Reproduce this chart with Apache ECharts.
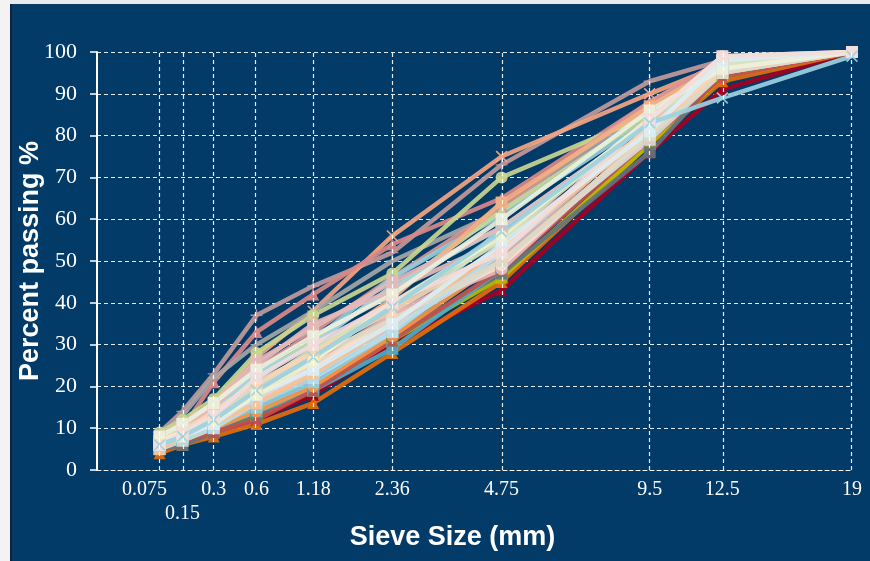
<!DOCTYPE html>
<html>
<head>
<meta charset="utf-8">
<script src="https://cdn.jsdelivr.net/npm/echarts@6/dist/echarts.min.js"></script>
<style>
  html, body { margin: 0; padding: 0; background: #f2f2f2; }
  #chart { width: 870px; height: 561px; }
</style>
</head>
<body>
<div id="chart"></div>
<script>
// Sieve openings (mm) and their tick labels
const sieveSizes = [0.075, 0.15, 0.3, 0.6, 1.18, 2.36, 4.75, 9.5, 12.5, 19];
const sieveLabels = ['0.075', '0.15', '0.3', '0.6', '1.18', '2.36', '4.75', '9.5', '12.5', '19'];
const passingTicks = [0, 10, 20, 30, 40, 50, 60, 70, 80, 90, 100];
// Sieve whose label sits on a second, lower row
const loweredSieve = 0.15;

// Percent passing for each gradation, one value per sieve
const mix01 = [5, 7, 9, 12, 18, 30, 43, 76, 91, 100];
const mix02 = [4, 6, 8, 11, 16, 28, 45, 78, 93, 100];
const mix03 = [5, 7, 9, 13, 19, 31, 46, 78, 94, 100];
const mix04 = [5, 6, 9, 13, 20, 32, 47, 76, 95, 100];
const mix05 = [5, 7, 10, 14, 19, 29, 48, 80, 96, 100];
const mix06 = [5, 7, 9, 12, 19, 31, 48, 79, 94, 100];
const mix07 = [5, 7, 10, 14, 20, 32, 50, 80, 96, 100];
const mix08 = [6, 8, 11, 15, 21, 33, 58, 81, 95, 100];
const mix09 = [6, 8, 12, 16, 24, 37, 48, 81, 97, 100];
const mix10 = [9, 14, 23, 37, 44, 52, 73, 93, 98, 100];
const mix11 = [7, 10, 16, 27, 38, 56, 75, 90, 97, 100];
const mix12 = [6, 10, 21, 33, 42, 54, 65, 88, 98, 100];
const mix13 = [8, 13, 22, 30, 38, 50, 62, 87, 97, 100];
const mix14 = [9, 12, 17, 28, 37, 47, 70, 85, 98, 100];
const mix15 = [7, 10, 15, 24, 33, 46, 63, 88, 98, 100];
const mix16 = [6, 9, 13, 22, 31, 46, 61, 84, 97, 100];
const mix17 = [7, 10, 14, 23, 31, 43, 62, 85, 97, 100];
const mix18 = [7, 9, 13, 19, 28, 41, 64, 87, 97, 100];
const mix19 = [6, 9, 14, 23, 30, 44, 58, 83, 96, 100];
const mix20 = [7, 10, 15, 25, 35, 43, 55, 80, 97, 100];
const mix21 = [8, 11, 16, 26, 34, 45, 58, 83, 98, 100];
const mix22 = [5, 8, 12, 19, 26, 37, 51, 82, 97, 100];
const mix23 = [6, 8, 12, 17, 25, 36, 49, 80, 96, 100];
const mix24 = [6, 8, 11, 17, 23, 34, 50, 79, 95, 100];
const mix25 = [5, 7, 10, 16, 22, 33, 52, 82, 97, 100];
const mix26 = [5, 8, 11, 16, 23, 35, 53, 81, 96, 100];
const mix27 = [6, 9, 12, 20, 29, 39, 55, 84, 97, 100];
const mix28 = [7, 10, 13, 20, 27, 36, 50, 80, 95, 100];
const mix29 = [6, 9, 14, 21, 28, 38, 53, 82, 96, 100];
const mix30 = [8, 11, 16, 24, 32, 42, 60, 86, 96, 100];
const mix31 = [6, 8, 11, 18, 24, 35, 54, 81, 98, 100];
const mix32 = [7, 9, 12, 18, 26, 40, 56, 84, 99, 100];
const mix33 = [6, 9, 13, 22, 30, 40, 52, 84, 99, 100];
const mix34 = [6, 8, 12, 19, 27, 39, 57, 83, 89, 99];

const mixes = [mix01, mix02, mix03, mix04, mix05, mix06, mix07, mix08, mix09, mix10,
  mix11, mix12, mix13, mix14, mix15, mix16, mix17, mix18, mix19, mix20,
  mix21, mix22, mix23, mix24, mix25, mix26, mix27, mix28, mix29, mix30,
  mix31, mix32, mix33, mix34];

// Marker shapes
const crossMark = 'path://M1,0 L5,4 L9,0 L10,1 L6,5 L10,9 L9,10 L5,6 L1,10 L0,9 L4,5 L0,1 Z';
const starMark = 'path://M4.4,0 H5.6 V4.4 H10 V5.6 H5.6 V10 H4.4 V5.6 H0 V4.4 H4.4 Z';

// Line colour and marker for each gradation, drawn in this order
const mixStyles = [
  ['#A50021', 'triangle'], ['#E46C0A', 'triangle'], ['#B9BC00', 'rect'], ['#66737C', 'rect'],
  ['#4BACC6', 'rect'], ['#C0504D', 'triangle'], ['#F79646', 'circle'], ['#93CDDD', 'rect'],
  ['#E6B9B8', 'circle'], ['#C09A9A', starMark], ['#F4A582', crossMark], ['#D98888', 'triangle'],
  ['#A6A6A6', starMark], ['#C9D58F', 'circle'], ['#D99694', 'triangle'], ['#92CDDC', 'triangle'],
  ['#C4D79B', 'triangle'], ['#F4B183', 'rect'], ['#A5D5E2', 'rect'], ['#E6B9B8', 'circle'],
  ['#E5B9B7', 'rect'], ['#E8B4B2', 'triangle'], ['#FDE0CC', 'circle'], ['#D9D9D9', 'rect'],
  ['#B7DEE8', 'rect'], ['#FAC090', 'triangle'], ['#D7E4BD', 'circle'], ['#DDD9C3', 'rect'],
  ['#FCD5B5', 'triangle'], ['#EBF1DE', 'rect'], ['#DBEEF4', 'rect'], ['#F2F2CC', 'circle'],
  ['#F2DCDB', 'rect'], ['#9BD1E0', crossMark]
];

// Gradation charts plot sieve size on a 0.45-power scale
const POWER = 0.45;
const toAxis = s => Math.pow(s, POWER);

function sieveLabelFor(value) {
  let best = 0;
  sieveSizes.forEach((s, k) => {
    if (Math.abs(toAxis(s) - value) < Math.abs(toAxis(sieveSizes[best]) - value)) best = k;
  });
  return sieveLabels[best];
}

const series = mixes.map((vals, i) => ({
  name: 'Mix ' + (i + 1),
  type: 'line',
  z: 3,
  data: vals.map((v, k) => [toAxis(sieveSizes[k]), v]),
  symbol: mixStyles[i][1],
  symbolSize: 12,
  showSymbol: true,
  lineStyle: { width: 4.5, color: mixStyles[i][0], opacity: 0.92 },
  itemStyle: { color: mixStyles[i][0], opacity: 0.92 },
  animation: false,
  silent: true
}));

// Vertical grid lines at each sieve
series.unshift({
  name: 'sieve-grid',
  type: 'line',
  z: 1,
  data: [],
  silent: true,
  animation: false,
  markLine: {
    silent: true,
    symbol: 'none',
    label: { show: false },
    animation: false,
    lineStyle: { color: 'rgba(255,255,255,0.9)', type: [4, 3], width: 1.2 },
    data: sieveSizes.map(s => ({ xAxis: toAxis(s) }))
  }
});

const tickFont = { color: '#ffffff', fontFamily: 'Liberation Serif', fontSize: 20 };

const chart = echarts.init(document.getElementById('chart'), null, { renderer: 'canvas' });
chart.setOption({
  backgroundColor: '#023A68',
  animation: false,
  graphic: [
    { type: 'rect', left: 0, top: 0, shape: { width: 870, height: 4 }, style: { fill: '#e9e9e9' }, z: 100 },
    { type: 'rect', left: 0, top: 0, shape: { width: 10, height: 561 }, style: { fill: '#f3f3f3' }, z: 100 },
    { type: 'rect', left: 10, top: 4, shape: { width: 2, height: 557 }, style: { fill: '#0c2440' }, z: 100 }
  ],
  grid: { left: 97, right: 18, top: 52, bottom: 91, containLabel: false, outerBoundsMode: 'none' },
  xAxis: [{
    type: 'value',
    min: 0,
    max: toAxis(19),
    name: 'Sieve Size (mm)',
    nameLocation: 'middle',
    nameGap: 54,
    nameMoveOverlap: false,
    nameTextStyle: {
      color: '#ffffff', fontFamily: 'Liberation Sans', fontWeight: 'bold', fontSize: 27,
      padding: [0, 44, 0, 0]
    },
    axisLine: { show: true, lineStyle: { color: 'rgba(255,255,255,0.9)', type: [4, 3], width: 1.2 } },
    axisTick: { show: false },
    splitLine: { show: false },
    axisLabel: Object.assign({
      customValues: sieveSizes.filter(s => s !== loweredSieve).map(toAxis),
      hideOverlap: false,
      showMinLabel: true,
      showMaxLabel: true,
      margin: 10,
      formatter: function (value) {
        const text = sieveLabelFor(value);
        // the finest sieve label is nudged left of its line
        return text === '0.075' ? text + '      ' : text;
      }
    }, tickFont)
  }, {
    type: 'value',
    position: 'bottom',
    offset: 24,
    min: 0,
    max: toAxis(19),
    axisLine: { show: false },
    axisTick: { show: false },
    splitLine: { show: false },
    axisLabel: Object.assign({
      customValues: [toAxis(loweredSieve)],
      showMinLabel: true,
      showMaxLabel: true,
      margin: 10,
      formatter: value => sieveLabelFor(value)
    }, tickFont)
  }],
  yAxis: {
    type: 'value',
    min: passingTicks[0],
    max: passingTicks[passingTicks.length - 1],
    interval: 10,
    name: 'Percent passing %',
    nameLocation: 'middle',
    nameGap: 53,
    nameMoveOverlap: false,
    nameTextStyle: { color: '#ffffff', fontFamily: 'Liberation Sans', fontWeight: 'bold', fontSize: 27 },
    axisLine: { show: true, lineStyle: { color: '#ffffff', width: 2 } },
    axisTick: { show: true, inside: false, length: 7, lineStyle: { color: '#ffffff', width: 1.5 } },
    axisLabel: { color: '#ffffff', fontFamily: 'Liberation Serif', fontSize: 22, margin: 20 },
    splitLine: { show: true, lineStyle: { color: 'rgba(255,255,255,0.9)', type: [4, 3], width: 1.2 } }
  },
  series: series
});
</script>
</body>
</html>
